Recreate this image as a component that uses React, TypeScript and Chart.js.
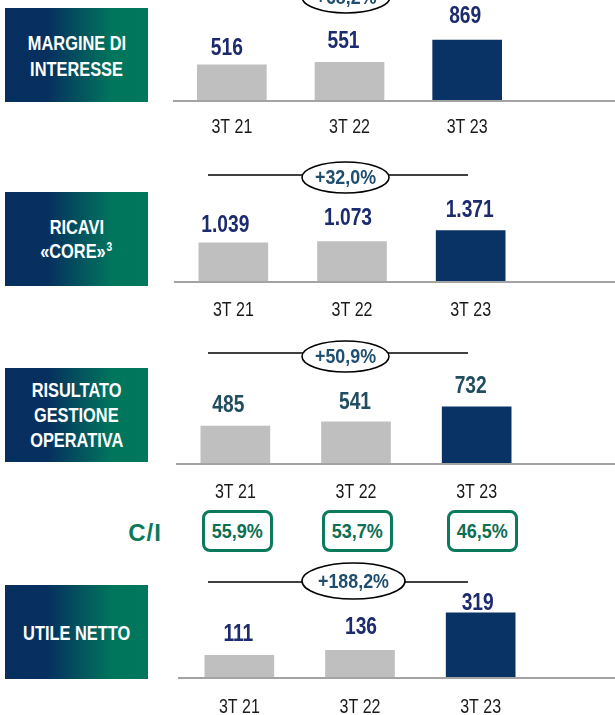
import React, { useEffect, useRef } from "react";
import { Chart, registerables } from "chart.js";

Chart.register(...registerables);

// ---------- data ----------
const categories = ["3T 21", "3T 22", "3T 23"];
const margineInteresse = [516, 551, 869];
const ricaviCore = [1039, 1073, 1371];
const risultatoGestione = [485, 541, 732];
const utileNetto = [111, 136, 319];
const growthLabels = ["+68,2%", "+32,0%", "+50,9%", "+188,2%"];
const costIncome = [55.9, 53.7, 46.5];
const ciLabel = "C/I";
const panelTitles = [
  ["MARGINE DI", "INTERESSE"],
  ["RICAVI", "«CORE»"],
  ["RISULTATO", "GESTIONE", "OPERATIVA"],
  ["UTILE NETTO"],
];
const titleFootnotes = ["", "3", "", ""];

// ---------- styles / layout ----------
const FONT = "'Liberation Sans', Arial, sans-serif";
const CANVAS_LEFT = 173;
const CANVAS_WIDTH = 442;
const GREY = "#bfbfbf";
const NAVY = "#0a3365";
const GREEN = "#0b7a5c";
const GRADIENT = "linear-gradient(90deg, #062f5f 0%, #07305f 30%, #00765c 75%, #00785c 100%)";

type PanelLayout = {
  top: number;
  height: number;
  axisY: number;
  padL: number;
  padR: number;
  lineStart: number;
  yMax: number;
  tickGap: number;
  valueColor: string;
  nudges: number[][];
  ellipse: { cx: number; cy: number; rx: number; ry: number; lineY: number; x1: number; x2: number };
  box: { top: number; lines: number[] };
};

const layouts: PanelLayout[] = [
  {
    top: 0, height: 150, axisY: 101, padL: 0, padR: 89, lineStart: 173, yMax: 1443, tickGap: 26,
    valueColor: "#1c2a6e", nudges: [[-5, 17], [-6, 21], [-2, 24]],
    ellipse: { cx: 346, cy: -3, rx: 44, ry: 16, lineY: -5, x1: 208, x2: 468 },
    box: { top: 8, lines: [43, 69] },
  },
  {
    top: 150, height: 180, axisY: 282, padL: 1, padR: 85, lineStart: 174, yMax: 3511, tickGap: 28,
    valueColor: "#1c2a6e", nudges: [[-8, 18], [-4, 23], [-1, 20]],
    ellipse: { cx: 345.5, cy: 177.5, rx: 43.5, ry: 15.5, lineY: 175, x1: 208, x2: 468 },
    box: { top: 192, lines: [227, 251] },
  },
  {
    top: 330, height: 176, axisY: 464, padL: 2, padR: 78, lineStart: 176, yMax: 1718, tickGap: 28,
    valueColor: "#204d60", nudges: [[-7, 21], [-1, 19], [-6, 21]],
    ellipse: { cx: 345.5, cy: 356.5, rx: 43.5, ry: 15.5, lineY: 353, x1: 208, x2: 468 },
    box: { top: 368, lines: [390, 415, 440] },
  },
  {
    top: 560, height: 155, axisY: 678, padL: 6, padR: 74, lineStart: 178, yMax: 578, tickGap: 29,
    valueColor: "#1c2a6e", nudges: [[-1, 21], [1, 23], [-3, 10]],
    ellipse: { cx: 353.5, cy: 581, rx: 51.5, ry: 18, lineY: 582, x1: 208, x2: 468 },
    box: { top: 585, lines: [633] },
  },
];

const ciBoxes = [202, 322, 447];

const fmtInt = (v: number) => String(v).replace(/\B(?=(\d{3})+(?!\d))/g, ".");
const fmtPct = (v: number) => v.toFixed(1).replace(".", ",") + "%";

function narrowText(ctx: CanvasRenderingContext2D, text: string, x: number, y: number, sx: number) {
  ctx.save();
  ctx.translate(x, y);
  ctx.scale(sx, 1);
  ctx.fillText(text, 0, 0);
  ctx.restore();
}

const overlayPlugin = {
  id: "overlay",
  afterDatasetsDraw(chart: any, _args: any, opts: any) {
    const L: PanelLayout = opts.layout;
    const values: number[] = opts.values;
    const { ctx, chartArea } = chart;
    const xScale = chart.scales.x;
    ctx.save();
    // baseline
    ctx.strokeStyle = "#a3a3a3";
    ctx.lineWidth = 2;
    ctx.beginPath();
    ctx.moveTo(L.lineStart - CANVAS_LEFT, chartArea.bottom);
    ctx.lineTo(chart.width, chartArea.bottom);
    ctx.stroke();
    ctx.textAlign = "center";
    ctx.textBaseline = "middle";
    // category labels
    ctx.font = `20px ${FONT}`;
    ctx.fillStyle = "#1a1a1a";
    categories.forEach((c, i) => {
      narrowText(ctx, c, xScale.getPixelForValue(i), chartArea.bottom + L.tickGap, 0.8);
    });
    // value labels
    const meta = chart.getDatasetMeta(0);
    ctx.font = `bold 24px ${FONT}`;
    ctx.fillStyle = L.valueColor;
    meta.data.forEach((bar: any, i: number) => {
      const [dx, dy] = L.nudges[i];
      narrowText(ctx, fmtInt(values[i]), bar.x + dx, bar.y - dy, 0.8);
    });
    // growth ellipse
    const e = L.ellipse;
    const cy = e.cy - L.top;
    const ly = e.lineY - L.top;
    ctx.strokeStyle = "#000";
    ctx.lineWidth = 1.6;
    ctx.beginPath();
    ctx.moveTo(e.x1 - CANVAS_LEFT, ly);
    ctx.lineTo(e.x2 - CANVAS_LEFT, ly);
    ctx.stroke();
    ctx.beginPath();
    ctx.ellipse(e.cx - CANVAS_LEFT, cy, e.rx, e.ry, 0, 0, Math.PI * 2);
    ctx.fillStyle = "#fff";
    ctx.fill();
    ctx.stroke();
    ctx.font = `bold 21px ${FONT}`;
    ctx.fillStyle = "#1f4e6e";
    narrowText(ctx, opts.growth, e.cx - CANVAS_LEFT, cy + 1, 0.85);
    ctx.restore();
  },
};

function Panel({ values, index }: { values: number[]; index: number }) {
  const ref = useRef<HTMLCanvasElement | null>(null);
  const L = layouts[index];
  useEffect(() => {
    if (!ref.current) return;
    const axisH = L.height - (L.axisY - L.top);
    const chart = new Chart(ref.current, {
      type: "bar",
      data: {
        labels: categories,
        datasets: [
          {
            data: values,
            backgroundColor: [GREY, GREY, NAVY],
            borderWidth: 0,
            barThickness: 69,
          },
        ],
      },
      options: {
        animation: false,
        responsive: false,
        events: [],
        layout: { padding: { left: L.padL, right: L.padR, top: 0, bottom: axisH } },
        plugins: {
          legend: { display: false },
          tooltip: { enabled: false },
          overlay: { layout: L, values, growth: growthLabels[index] },
        } as any,
        scales: {
          x: { display: false },
          y: { display: false, min: 0, max: L.yMax },
        },
      },
      plugins: [overlayPlugin],
    });
    return () => chart.destroy();
  }, []);
  return (
    <canvas
      ref={ref}
      width={CANVAS_WIDTH}
      height={L.height}
      style={{ position: "absolute", left: CANVAS_LEFT, top: L.top, width: CANVAS_WIDTH, height: L.height }}
    />
  );
}

const narrowSpan = (sx: number): React.CSSProperties => ({
  display: "inline-block",
  transform: `scaleX(${sx})`,
  transformOrigin: "center",
});

function TitleBox({ index }: { index: number }) {
  const L = layouts[index];
  const lines = panelTitles[index];
  return (
    <div
      style={{
        position: "absolute",
        left: 5,
        top: L.box.top,
        width: 143,
        height: 94,
        background: GRADIENT,
      }}
    >
      {lines.map((t, i) => (
        <div
          key={i}
          style={{
            position: "absolute",
            left: 0,
            width: 143,
            top: L.box.lines[i] - L.box.top - 13,
            height: 26,
            lineHeight: "26px",
            textAlign: "center",
            color: "#fff",
            fontFamily: FONT,
            fontWeight: "bold",
            fontSize: 21,
            whiteSpace: "nowrap",
          }}
        >
          <span style={narrowSpan(0.78)}>
            {t}
            {i === lines.length - 1 && titleFootnotes[index] ? (
              <span style={{ fontSize: 13, position: "relative", top: -7, marginLeft: 1 }}>{titleFootnotes[index]}</span>
            ) : null}
          </span>
        </div>
      ))}
    </div>
  );
}

export default function App() {
  const series = [margineInteresse, ricaviCore, risultatoGestione, utileNetto];
  return (
    <div
      style={{
        position: "fixed",
        left: 0,
        top: 0,
        width: 615,
        height: 715,
        background: "#fff",
        overflow: "hidden",
      }}
    >
      {series.map((v, i) => (
        <TitleBox key={"t" + i} index={i} />
      ))}
      {series.map((v, i) => (
        <Panel key={"p" + i} values={v} index={i} />
      ))}
      <div
        style={{
          position: "absolute",
          left: 120,
          top: 518,
          width: 50,
          height: 30,
          lineHeight: "30px",
          textAlign: "center",
          color: GREEN,
          fontFamily: FONT,
          fontWeight: "bold",
          fontSize: 24,
          letterSpacing: 1,
        }}
      >
        {ciLabel}
      </div>
      {costIncome.map((v, i) => (
        <div
          key={"ci" + i}
          style={{
            position: "absolute",
            left: ciBoxes[i],
            top: 510,
            width: 71,
            height: 42,
            boxSizing: "border-box",
            border: `3px solid ${GREEN}`,
            borderRadius: 8,
            display: "flex",
            alignItems: "center",
            justifyContent: "center",
            color: "#0d6e52",
            fontFamily: FONT,
            fontWeight: "bold",
            fontSize: 20,
            whiteSpace: "nowrap",
          }}
        >
          <span style={narrowSpan(0.9)}>{fmtPct(v)}</span>
        </div>
      ))}
    </div>
  );
}
